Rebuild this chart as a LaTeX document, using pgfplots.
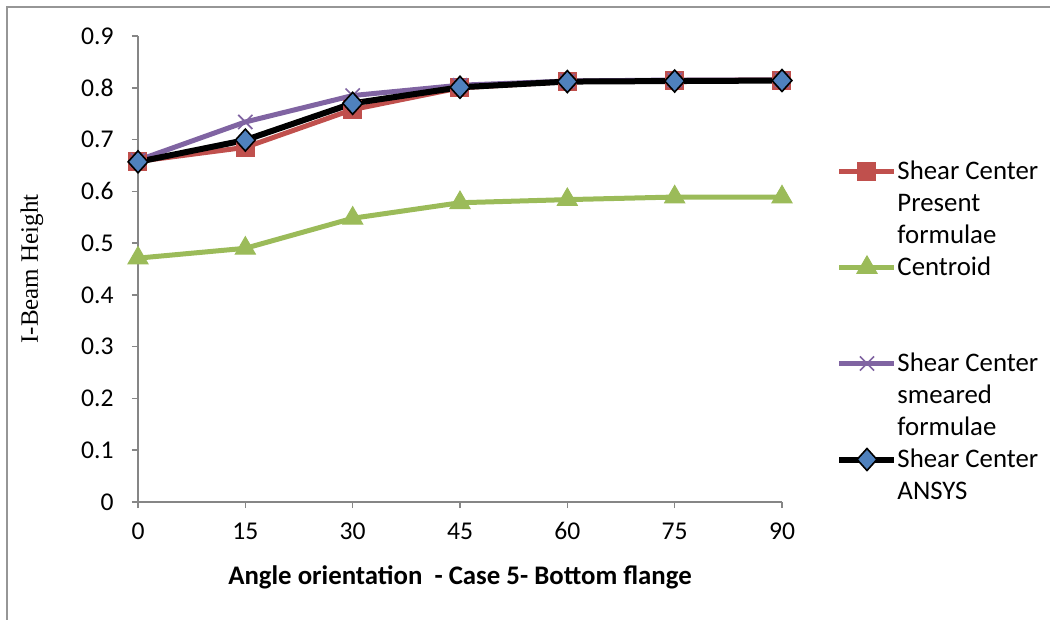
\documentclass[border=0pt]{standalone}
\usepackage{pgfplots}
\pgfplotsset{compat=1.18}
\usepackage{fontspec}
\setmainfont{Carlito}
\newfontfamily\timesfont{Liberation Serif}

\definecolor{scred}{RGB}{192,80,77}
\definecolor{scgreen}{RGB}{155,187,89}
\definecolor{scpurple}{RGB}{128,100,162}
\definecolor{scblue}{RGB}{79,129,189}
\definecolor{axgray}{RGB}{134,134,134}
\definecolor{framegray}{RGB}{150,150,150}

% multi-line legend text, aligned on its first line
\newcommand\lgd[1]{\begin{tabular}[t]{@{}l@{}}#1\end{tabular}}

\begin{document}
\fontsize{12.5}{15.8}\selectfont
\begin{tikzpicture}[x=1pt,y=1pt]
\path[use as bounding box] (0,0) rectangle (525,-310);
\draw[framegray, line width=1pt] (3.5,-310) -- (3.5,-3.5) -- (525,-3.5);
\begin{axis}[
  at={(69pt,-251pt)}, anchor=south west,
  scale only axis, width=322pt, height=233pt,
  xmin=0, xmax=90, ymin=0, ymax=0.9,
  xtick={0,15,30,45,60,75,90},
  ytick={0,0.1,0.2,0.3,0.4,0.5,0.6,0.7,0.8,0.9},
  yticklabels={0,0.1,0.2,0.3,0.4,0.5,0.6,0.7,0.8,0.9},
  axis x line*=bottom, axis y line*=left,
  axis line style={draw=axgray, line width=0.75pt},
  tick align=outside, major tick length=3pt,
  tick style={draw=axgray, line width=0.75pt},
  /pgf/number format/assume math mode=true,
  ticklabel style={font=\fontsize{12.8}{15}\selectfont, inner sep=0pt},
  yticklabel style={anchor=east, xshift=-9pt},
  xticklabel style={anchor=center, yshift=-11.5pt},
  clip=false,
  xlabel={Angle orientation\ \ - Case 5- Bottom flange},
  xlabel style={font=\fontsize{13.4}{15}\selectfont\bfseries, at={(axis description cs:0.5,-0.161)}, anchor=center},
  ylabel={I-Beam Height},
  ylabel style={font=\fontsize{12.5}{15}\selectfont\timesfont, at={(axis description cs:-0.1646,0.5)}, anchor=center, rotate=0},
  legend style={draw=none, fill=none, inner sep=0pt,
    at={(axis description cs:1.084,0.741)}, anchor=north west,
    font=\fontsize{13.4}{16}\selectfont,
    cells={anchor=base west},
    nodes={inner xsep=0pt, inner ysep=0pt, text depth=},
    row sep=0pt, column sep=0pt},
  legend image code/.code={
    \draw[mark repeat=2, mark phase=2] plot coordinates {(0pt,4pt) (13.75pt,4pt) (27.5pt,4pt)};
  },
]
\addplot[scred, line width=2.5pt, mark=square*, mark size=4.5pt, mark options={fill=scred, draw=scred, line width=0.5pt}]
  coordinates {(0,0.658) (15,0.685) (30,0.758) (45,0.800) (60,0.812) (75,0.814) (90,0.815)};
\addlegendentry{\lgd{Shear Center\\Present\\formulae}}

\addplot[scgreen, line width=2.5pt, mark=triangle*, mark size=5.8pt, mark options={fill=scgreen, draw=scgreen, line width=0.5pt}]
  coordinates {(0,0.471) (15,0.490) (30,0.548) (45,0.578) (60,0.584) (75,0.589) (90,0.589)};
\addlegendentry{\lgd{Centroid\\ \\ \mbox{}}}

\addplot[scpurple, line width=2.5pt, mark=x, mark size=5pt, mark options={draw=scpurple, line width=0.8pt}]
  coordinates {(0,0.660) (15,0.734) (30,0.785) (45,0.805) (60,0.813) (75,0.815) (90,0.815)};
\addlegendentry{\lgd{Shear Center\\smeared\\formulae}}

\addplot[black, line width=3pt, mark=diamond*, mark size=5.5pt, mark options={fill=scblue, draw=black, line width=0.8pt, xscale=1.2}]
  coordinates {(0,0.657) (15,0.699) (30,0.770) (45,0.801) (60,0.812) (75,0.813) (90,0.814)};
\addlegendentry{\lgd{Shear Center\\ANSYS}}
\end{axis}
\end{tikzpicture}
\end{document}
